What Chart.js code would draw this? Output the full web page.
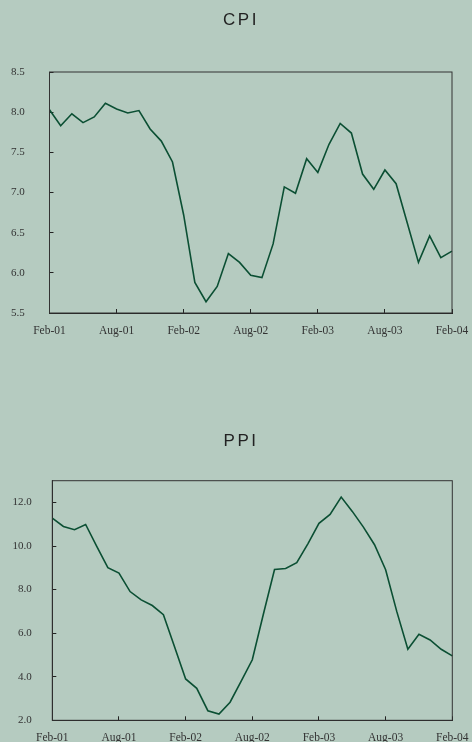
<!DOCTYPE html>
<html>
<head>
<meta charset="utf-8">
<title>CPI / PPI</title>
<script src="https://cdn.jsdelivr.net/npm/chart.js@4.4.1/dist/chart.umd.min.js"></script>
<style>
  html, body { margin: 0; padding: 0; background: #b5cbc0; }
  #page { position: relative; width: 472px; height: 742px; overflow: hidden; }
  canvas { position: absolute; left: 0; }
  .title {
    position: absolute; left: 5px; width: 472px; text-align: center;
    font-family: 'Liberation Sans', Arial, sans-serif; font-size: 17px; line-height: 20px;
    letter-spacing: 2.5px; color: #222;
  }
</style>
</head>
<body>
<div id="page">
  <canvas id="cpiChart" width="472" height="371" style="top:0"></canvas>
  <canvas id="ppiChart" width="472" height="371" style="top:371px"></canvas>
  <div class="title" style="top:10px">CPI</div>
  <div class="title" style="top:431px">PPI</div>
</div>
<script>
// Monthly categories, Feb-01 .. Feb-04
const months = [
    'Feb-01', 'Mar-01', 'Apr-01', 'May-01', 'Jun-01', 'Jul-01', 'Aug-01', 'Sep-01', 'Oct-01', 'Nov-01', 'Dec-01', 'Jan-02',
    'Feb-02', 'Mar-02', 'Apr-02', 'May-02', 'Jun-02', 'Jul-02', 'Aug-02', 'Sep-02', 'Oct-02', 'Nov-02', 'Dec-02', 'Jan-03',
    'Feb-03', 'Mar-03', 'Apr-03', 'May-03', 'Jun-03', 'Jul-03', 'Aug-03', 'Sep-03', 'Oct-03', 'Nov-03', 'Dec-03', 'Jan-04',
    'Feb-04'
];
const tickLabels = ['Feb-01', 'Aug-01', 'Feb-02', 'Aug-02', 'Feb-03', 'Aug-03', 'Feb-04'];

const cpiValues = [
    8.03, 7.83, 7.98, 7.87, 7.94, 8.11, 8.04, 7.99, 8.02, 7.79, 7.64, 7.38,
    6.72, 5.88, 5.64, 5.83, 6.24, 6.13, 5.97, 5.94, 6.36, 7.07, 6.99, 7.42,
    7.25, 7.60, 7.86, 7.74, 7.23, 7.04, 7.28, 7.11, 6.62, 6.13, 6.46, 6.19,
    6.27
];
const ppiValues = [
    11.28, 10.90, 10.75, 10.99, 9.98, 9.01, 8.76, 7.91, 7.53, 7.27, 6.85, 5.38,
    3.90, 3.47, 2.44, 2.29, 2.83, 3.80, 4.78, 6.88, 8.92, 8.97, 9.24, 10.10,
    11.04, 11.45, 12.25, 11.59, 10.87, 10.06, 8.91, 7.00, 5.26, 5.95, 5.69, 5.26,
    4.96
];

const serif = "'Liberation Serif', 'Times New Roman', serif";
const axisColor = '#222';

// box around the plot area
const framePlugin = {
    id: 'frame',
    afterDraw(chart) {
        const { ctx, chartArea: a } = chart;
        ctx.save();
        ctx.strokeStyle = '#333';
        ctx.lineWidth = 1;
        ctx.strokeRect(a.left, a.top, a.right - a.left, a.bottom - a.top);
        ctx.restore();
    }
};

function makeChart(id, values, opts) {
    const ctx = document.getElementById(id).getContext('2d');
    return new Chart(ctx, {
        type: 'line',
        data: {
            labels: months,
            datasets: [{
                data: values,
                borderColor: '#0b4f33',
                borderWidth: 1.6,
                pointRadius: 0,
                tension: 0,
                fill: false
            }]
        },
        options: {
            responsive: false,
            animation: false,
            layout: { padding: opts.padding },
            plugins: { legend: { display: false }, tooltip: { enabled: false } },
            scales: {
                x: {
                    type: 'category',
                    afterBuildTicks: s => { s.ticks = s.ticks.filter(t => tickLabels.includes(months[t.value])); },
                    afterFit: s => {
                        s.height = opts.xHeight;
                        // let layout padding alone decide the plot area
                        s.paddingLeft = 0;
                        s.paddingRight = 0;
                    },
                    grid: { display: true, drawOnChartArea: false, drawTicks: true, tickLength: -4, color: axisColor },
                    border: { color: axisColor, width: 1 },
                    ticks: {
                        autoSkip: false, maxRotation: 0, padding: 15,
                        color: '#333', font: { family: serif, size: 11.5 }
                    }
                },
                y: {
                    min: opts.min,
                    max: opts.max,
                    afterFit: s => {
                        s.width = opts.yWidth;
                        s.paddingTop = 0;
                        s.paddingBottom = 0;
                    },
                    grid: { display: true, drawOnChartArea: false, drawTicks: true, tickLength: -4, color: axisColor },
                    border: { color: axisColor, width: 1 },
                    ticks: {
                        stepSize: opts.step, includeBounds: false, padding: opts.yPad,
                        color: '#333', font: { family: serif, size: 11 },
                        callback: v => v.toFixed(1)
                    }
                }
            }
        },
        plugins: [framePlugin]
    });
}

makeChart('cpiChart', cpiValues, {
    min: 5.5, max: 8.5, step: 0.5,
    padding: { top: 72, right: 20, left: 0, bottom: 0 },
    xHeight: 58, yWidth: 49.5, yPad: 28.8
});

makeChart('ppiChart', ppiValues, {
    min: 2, max: 13, step: 2,
    padding: { top: 109.7, right: 19.7, left: 0, bottom: 0 },
    xHeight: 21.7, yWidth: 52.3, yPad: 24.6
});
</script>
</body>
</html>
